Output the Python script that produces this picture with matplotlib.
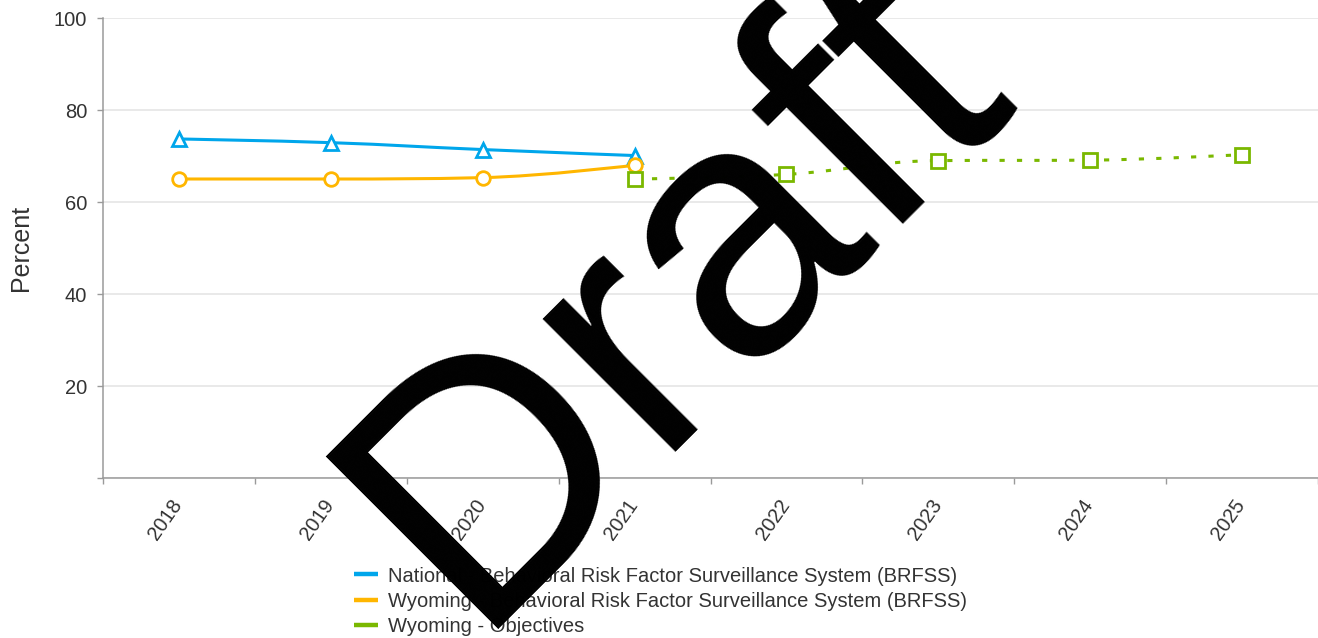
import matplotlib
matplotlib.use("Agg")
import matplotlib.pyplot as plt
from matplotlib.path import Path
from matplotlib.patches import PathPatch
from matplotlib.lines import Line2D
from matplotlib.transforms import ScaledTranslation

# ---- data -------------------------------------------------------------
years = ["2018", "2019", "2020", "2021", "2022", "2023", "2024", "2025"]

national_years = ["2018", "2019", "2020", "2021"]
national = [73.7, 72.9, 71.4, 70.1]

wyoming_years = ["2018", "2019", "2020", "2021"]
wyoming = [65.0, 65.0, 65.3, 68.0]

objective_years = ["2021", "2022", "2023", "2024", "2025"]
objectives = [65.0, 66.0, 69.0, 69.1, 70.3]

series_names = [
    "National - Behavioral Risk Factor Surveillance System (BRFSS)",
    "Wyoming - Behavioral Risk Factor Surveillance System (BRFSS)",
    "Wyoming - Objectives",
]
y_ticks = [0, 20, 40, 60, 80, 100]

BLUE = "#00A6EB"
ORANGE = "#FFB600"
GREEN = "#7AB800"
TEXT = "#333333"
AXIS = "#9a9a9a"
GRID = "#e3e3e3"

plt.rcParams["font.family"] = ["Liberation Sans", "DejaVu Sans"]


def spline_path(xs, ys, smoothing=1.5):
    """Smooth curve through the points (cubic Bezier segments)."""
    n = len(xs)
    verts = [(xs[0], ys[0])]
    codes = [Path.MOVETO]
    right_prev = (xs[0], ys[0])
    for i in range(1, n):
        x, y = xs[i], ys[i]
        lx, ly = xs[i - 1], ys[i - 1]
        if i < n - 1:
            nx, ny = xs[i + 1], ys[i + 1]
            d = smoothing + 1
            lcx, lcy = (smoothing * x + lx) / d, (smoothing * y + ly) / d
            rcx, rcy = (smoothing * x + nx) / d, (smoothing * y + ny) / d
            if rcx != lcx:
                corr = (rcy - lcy) * (rcx - x) / (rcx - lcx) + y - rcy
                lcy += corr
                rcy += corr
            if lcy > ly and lcy > y:
                lcy = max(ly, y)
                rcy = 2 * y - lcy
            elif lcy < ly and lcy < y:
                lcy = min(ly, y)
                rcy = 2 * y - lcy
            if rcy > ny and rcy > y:
                rcy = max(ny, y)
                lcy = 2 * y - rcy
            elif rcy < ny and rcy < y:
                rcy = min(ny, y)
                lcy = 2 * y - rcy
            left, right = (lcx, lcy), (rcx, rcy)
        else:
            left, right = (x, y), None
        verts += [right_prev, left, (x, y)]
        codes += [Path.CURVE4] * 3
        right_prev = right
    return Path(verts, codes)


W, H, DPI = 1318, 638, 100
fig = plt.figure(figsize=(W / DPI, H / DPI), dpi=DPI)
ax = fig.add_axes([103 / W, 1 - 478 / H, 1215 / W, 460 / H])

pos = {y: i for i, y in enumerate(years)}


def draw_series(cats, vals, color, marker, dashed=False):
    xs = [pos[c] for c in cats]
    path = spline_path(xs, vals)
    ls = (0, (1.7, 4.0)) if dashed else "-"
    ax.add_patch(PathPatch(path, fill=False, edgecolor=color, linewidth=2.2,
                           linestyle=ls, capstyle="butt", zorder=3))
    ax.plot(xs, vals, linestyle="none", marker=marker, markersize=9.8,
            markerfacecolor="white", markeredgecolor=color,
            markeredgewidth=2.0, zorder=4, clip_on=False)


draw_series(national_years, national, BLUE, "^")
draw_series(wyoming_years, wyoming, ORANGE, "o")
draw_series(objective_years, objectives, GREEN, "s", dashed=True)

ax.set_xlim(-0.5, len(years) - 0.5)
ax.set_ylim(0, 100)

# category boundaries carry the tick marks, centres carry the labels
ax.set_xticks([i - 0.5 for i in range(len(years) + 1)])
ax.set_xticklabels([])
ax.set_xticks(range(len(years)), minor=True)
ax.set_xticklabels(years, minor=True)
ax.tick_params(axis="x", which="major", direction="out", length=4.5,
               width=1.0, color=AXIS)
ax.tick_params(axis="x", which="minor", length=0, pad=17,
               labelsize=14.5, labelcolor=TEXT)
for lab in ax.get_xticklabels(minor=True):
    lab.set_rotation(55)
    lab.set_ha("right")
    lab.set_va("center")
    lab.set_rotation_mode("anchor")
    lab.set_transform(lab.get_transform() +
                      ScaledTranslation(-0.5 / 72, 0, fig.dpi_scale_trans))

ax.set_yticks(y_ticks)
ax.set_yticklabels(["" if v == 0 else str(v) for v in y_ticks])
ax.tick_params(axis="y", direction="out", length=4.5, width=1.0, color=AXIS,
               pad=7, labelsize=14.5, labelcolor=TEXT)

ax.yaxis.grid(True, color=GRID, linewidth=1.1)
ax.set_axisbelow(True)
for side in ("top", "right"):
    ax.spines[side].set_visible(False)
for side in ("left", "bottom"):
    ax.spines[side].set_color(AXIS)
    ax.spines[side].set_linewidth(1.1)
ax.set_facecolor("white")

fig.text(21 / W, 1 - 248 / H, "Percent", rotation=90, ha="center",
         va="center", fontsize=18, color=TEXT)

handles = [Line2D([], [], color=c, linewidth=3.2, solid_capstyle="butt")
           for c in (BLUE, ORANGE, GREEN)]
fig.legend(handles, series_names, loc="upper left",
           bbox_to_anchor=(354 / W, 1 - 566.5 / H), frameon=False,
           fontsize=14.5, handlelength=1.17, handletextpad=0.52,
           labelspacing=0.31, borderpad=0, borderaxespad=0,
           labelcolor=TEXT)

fig.text(470 / W, 1 - 629 / H, "Draft", rotation=45, rotation_mode="anchor",
         ha="left", va="baseline", fontsize=255, color="black",
         family="Liberation Sans", zorder=20)

fig.savefig("out.png", dpi=DPI, facecolor="white")
